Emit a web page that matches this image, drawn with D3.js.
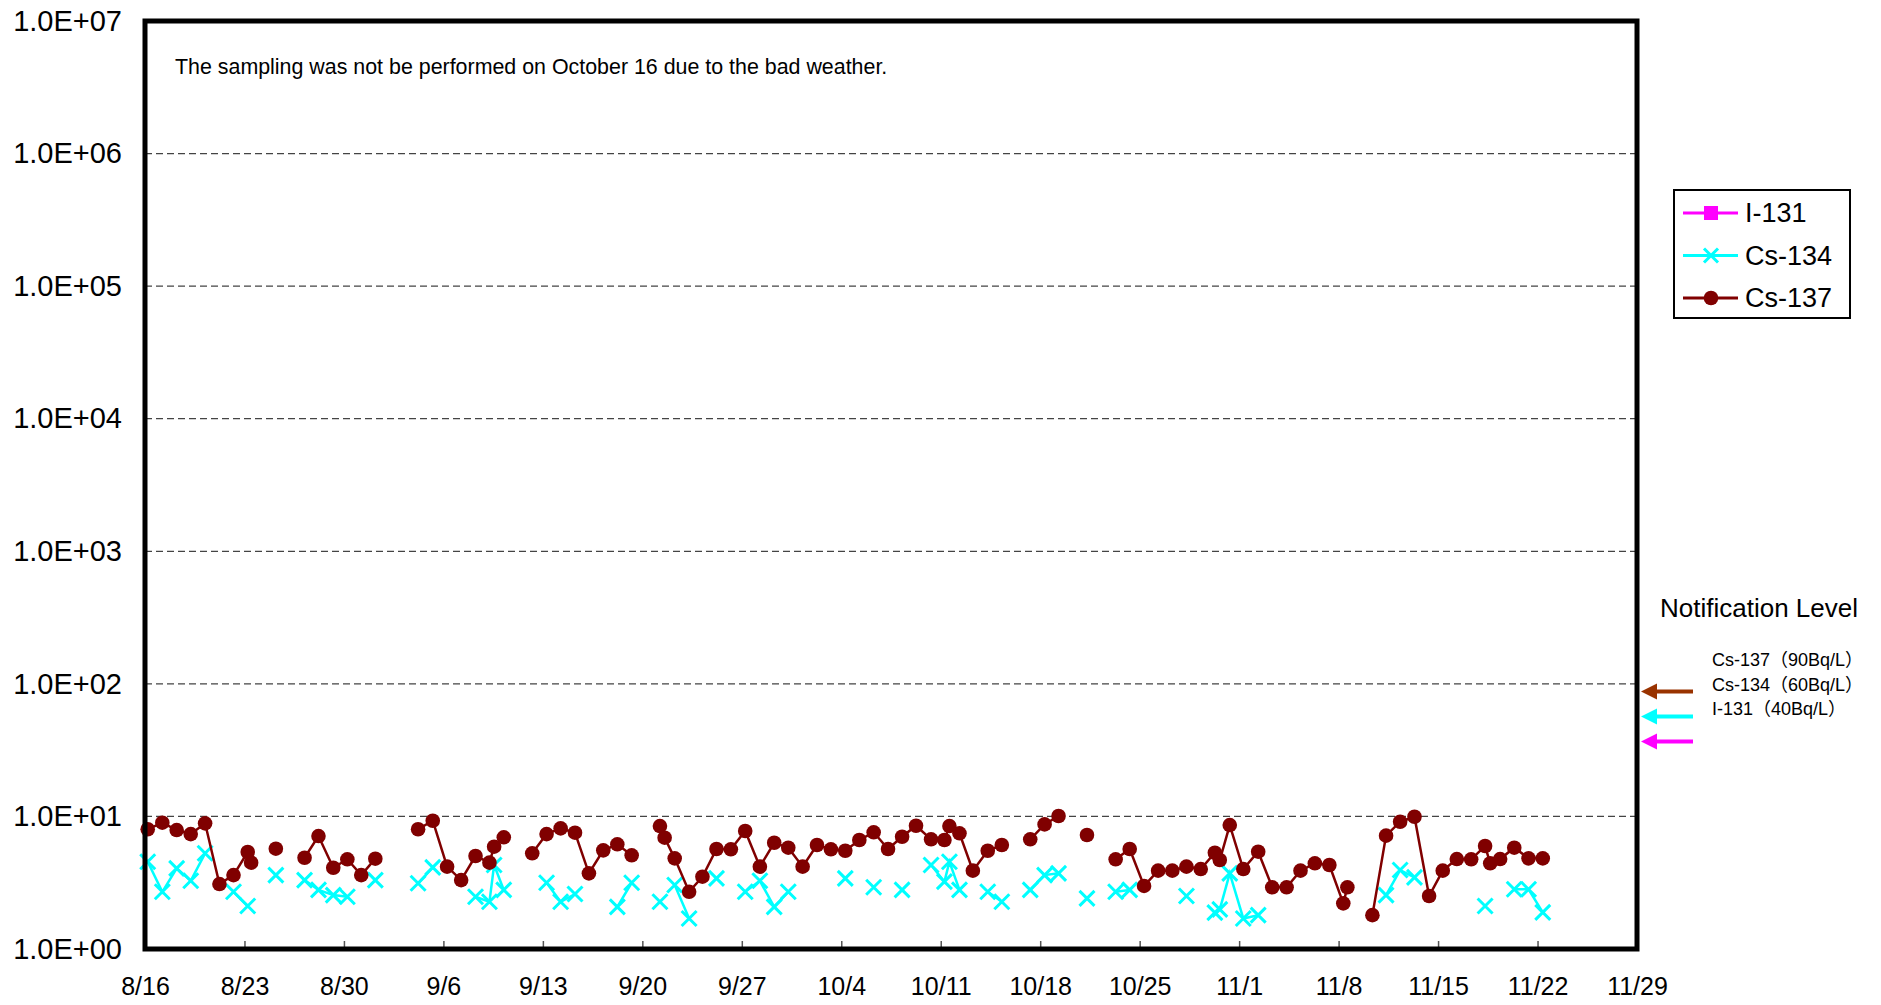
<!DOCTYPE html>
<meta charset="utf-8">
<script src="https://d3js.org/d3.v7.min.js"></script>
<body style="margin:0">
<svg width="1881" height="1005" style="display:block;background:#fff"></svg>
<script>
    // sampling times (year 2012), one row per sample; rows with both values null are days without sampling
    var sampleTimes = [
        "8/16 4:35","8/17 5:15","8/18 5:30","8/19 5:15","8/20 5:30","8/21 5:45","8/22 5:30","8/23 5:30","8/23 11:15","8/24 6:00",
        "8/25 5:00","8/26 6:00","8/27 5:30","8/28 5:00","8/29 6:00","8/30 5:45","8/31 5:15","9/1 5:00","9/2 6:00","9/3 6:00",
        "9/4 5:15","9/5 6:00","9/6 6:15","9/7 6:00","9/8 6:15","9/9 5:45","9/9 13:40","9/10 6:00","9/11 6:00","9/12 6:00",
        "9/13 6:15","9/14 6:00","9/15 6:15","9/16 5:45","9/17 6:00","9/18 5:45","9/19 6:00","9/20 6:00","9/21 5:45","9/21 13:40",
        "9/22 6:40","9/23 7:00","9/24 5:30","9/25 5:15","9/26 5:30","9/27 5:45","9/28 6:30","9/29 6:45","9/30 6:30","10/1 6:45",
        "10/2 7:00","10/3 6:30","10/4 6:45","10/5 6:30","10/6 6:45","10/7 7:00","10/8 6:45","10/9 6:15","10/10 7:40","10/11 6:15",
        "10/11 14:40","10/12 7:40","10/13 6:15","10/14 7:25","10/15 7:10","10/16 7:00","10/17 7:10","10/18 7:25","10/19 7:00","10/20 7:00",
        "10/21 7:00","10/22 7:00","10/23 7:25","10/24 7:10","10/25 7:25","10/26 7:10","10/27 7:10","10/28 7:00","10/29 7:10","10/30 7:00",
        "10/30 15:20","10/31 8:10","11/1 7:00","11/2 8:10","11/3 7:55","11/4 8:10","11/5 7:40","11/6 7:55","11/7 8:25","11/8 7:55",
        "11/8 14:50","11/9 8:00","11/10 9:05","11/11 8:10","11/12 7:55","11/13 8:10","11/14 8:50","11/15 7:55","11/16 7:40","11/17 7:55",
        "11/18 7:25","11/18 16:05","11/19 8:50","11/20 8:40","11/21 8:50","11/22 8:50"
    ];

    // Bq/L, null = not detected / no sample
    var cs134 = [
        4.55,2.70,4.06,3.27,5.27,null,2.70,2.11,null,null,
        3.61,null,3.31,2.79,2.55,2.48,null,3.31,null,null,
        3.13,4.13,null,null,2.48,2.27,4.30,2.79,null,null,
        3.16,2.27,2.60,null,null,2.08,3.16,null,2.27,null,
        3.04,1.70,null,3.41,null,2.70,3.27,2.08,2.70,null,
        null,null,3.41,null,2.92,null,2.79,null,4.30,3.22,
        4.55,2.79,null,2.70,2.27,null,2.79,3.61,3.72,null,
        2.41,null,2.70,2.79,null,null,null,2.51,null,1.88,
        1.99,3.72,1.70,1.80,null,null,null,null,null,null,
        null,null,null,2.55,3.94,3.47,null,null,null,null,
        2.11,null,null,2.82,2.82,1.89
    ];

    var cs137 = [
        8.00,8.97,7.89,7.36,8.87,3.09,3.61,5.39,4.48,null,
        5.71,null,4.88,7.11,4.10,4.75,3.61,4.80,null,null,
        8.00,9.28,4.18,3.31,5.03,4.48,5.91,6.96,null,5.27,
        7.36,8.13,7.54,3.72,5.55,6.16,5.09,null,8.46,6.91,
        4.83,2.70,3.51,5.68,5.65,7.76,4.18,6.33,5.81,4.18,
        6.09,5.65,5.51,6.64,7.59,5.68,7.03,8.51,6.72,6.64,
        8.46,7.46,3.90,5.51,6.09,null,6.72,8.71,10.07,null,
        7.24,null,4.75,5.68,2.99,3.90,3.90,4.18,4.01,5.32,
        4.69,8.61,4.01,5.42,2.92,2.92,3.90,4.43,4.30,2.21,
        2.92,null,1.80,7.16,9.12,9.95,2.51,3.90,4.77,4.75,
        5.98,4.43,4.77,5.81,4.83,4.83
    ];

    var i131 = []; // not detected in any sample

    var xTickLabels = ["8/16","8/23","8/30","9/6","9/13","9/20","9/27","10/4","10/11","10/18","10/25","11/1","11/8","11/15","11/22","11/29"];
    var yTickValues = [1, 10, 100, 1000, 10000, 100000, 1000000, 10000000];
    var seriesNames = ["I-131", "Cs-134", "Cs-137"];
    var levelLabels = ["Cs-137（90Bq/L）", "Cs-134（60Bq/L）", "I-131（40Bq/L）"];
    var levelValues = [90, 60, 40];
    var noteText = "The sampling was not be performed on October 16 due to the bad weather.";

    var font = "'Liberation Sans', Arial, 'Noto Sans CJK JP', sans-serif";
    var colors = {"I-131": "#ff00ff", "Cs-134": "#00ffff", "Cs-137": "#800000"};
    var arrowColors = ["#993300", "#00ffff", "#ff00ff"];

    var svg = d3.select('svg');
    var plotLeft = 145, plotRight = 1637, plotTop = 21, plotBottom = 949;

    var parseTime = d3.timeParse("%Y/%m/%d %H:%M");
    var parseDay = d3.timeParse("%Y/%m/%d");

    var x = d3.scaleTime()
        .domain([parseDay("2012/8/16"), parseDay("2012/11/29")])
        .range([plotLeft, plotRight]);

    var y = d3.scaleLog()
        .domain([1, 1e7])
        .range([plotBottom, plotTop]);

    var rows = sampleTimes.map(function(t, i){
        return {date: parseTime("2012/" + t), cs134: cs134[i], cs137: cs137[i]};
    });

    /* ----------- GRID ----------- */

    svg.append('g')
        .selectAll('line')
        .data(yTickValues.slice(1, -1))
        .enter()
        .append('line')
        .attr('x1', plotLeft).attr('x2', plotRight)
        .attr('y1', function(d){ return y(d); })
        .attr('y2', function(d){ return y(d); })
        .attr('stroke', '#444')
        .attr('stroke-width', 1.2)
        .attr('stroke-dasharray', '7,4');

    /* ----------- AXES ----------- */

    var xAxis = d3.axisBottom(x)
        .tickValues(xTickLabels.map(function(s){ return parseDay("2012/" + s); }))
        .tickFormat(function(d, i){ return xTickLabels[i]; })
        .tickSizeInner(-8)
        .tickSizeOuter(0)
        .tickPadding(28);

    var gx = svg.append('g')
        .attr('transform', 'translate(0,' + plotBottom + ')')
        .call(xAxis);
    gx.select('.domain').remove();
    gx.selectAll('line').attr('stroke', '#555').attr('stroke-width', 1.5);
    gx.selectAll('text')
        .attr('font-family', font)
        .attr('font-size', 25)
        .attr('fill', '#000');

    var yAxis = d3.axisLeft(y)
        .tickValues(yTickValues)
        .tickFormat(function(d){ return "1.0E+" + String(Math.round(Math.log10(d))).padStart(2, "0"); })
        .tickSize(0)
        .tickPadding(23);

    var gy = svg.append('g')
        .attr('transform', 'translate(' + plotLeft + ',0)')
        .call(yAxis);
    gy.select('.domain').remove();
    gy.selectAll('text')
        .attr('font-family', font)
        .attr('font-size', 29)
        .attr('fill', '#000');

    /* ----------- SERIES ----------- */

    function drawSeries(key, name){
        var line = d3.line()
            .defined(function(d){ return d[key] != null; })
            .x(function(d){ return x(d.date); })
            .y(function(d){ return y(d[key]); });

        svg.append('path')
            .datum(rows)
            .attr('fill', 'none')
            .attr('stroke', colors[name])
            .attr('stroke-width', 2.5)
            .attr('d', line);

        var pts = rows.filter(function(d){ return d[key] != null; });
        var g = svg.append('g');
        if (name == "Cs-134") {
            g.selectAll('path')
                .data(pts)
                .enter()
                .append('path')
                .attr('d', 'M-7.5,-7.5L7.5,7.5M-7.5,7.5L7.5,-7.5')
                .attr('transform', function(d){ return 'translate(' + x(d.date) + ',' + y(d[key]) + ')'; })
                .attr('stroke', colors[name])
                .attr('stroke-width', 3)
                .attr('fill', 'none');
        } else {
            g.selectAll('circle')
                .data(pts)
                .enter()
                .append('circle')
                .attr('cx', function(d){ return x(d.date); })
                .attr('cy', function(d){ return y(d[key]); })
                .attr('r', 7.3)
                .attr('fill', colors[name]);
        }
    }

    drawSeries('cs134', 'Cs-134');
    drawSeries('cs137', 'Cs-137');

    /* ----------- FRAME ----------- */

    svg.append('rect')
        .attr('x', plotLeft).attr('y', plotTop)
        .attr('width', plotRight - plotLeft).attr('height', plotBottom - plotTop)
        .attr('fill', 'none')
        .attr('stroke', '#000')
        .attr('stroke-width', 5);

    svg.append('text')
        .attr('x', 175).attr('y', 74)
        .attr('font-family', font)
        .attr('font-size', 21.4)
        .text(noteText);

    /* ----------- LEGEND ----------- */

    var legend = svg.append('g').attr('transform', 'translate(1674,190)');
    legend.append('rect')
        .attr('width', 176).attr('height', 128)
        .attr('fill', '#fff').attr('stroke', '#000').attr('stroke-width', 2);

    var item = legend.selectAll('g.item')
        .data(seriesNames)
        .enter()
        .append('g')
        .attr('class', 'item')
        .attr('transform', function(d, i){ return 'translate(0,' + (23 + i * 42.5) + ')'; });

    item.append('line')
        .attr('x1', 9).attr('x2', 64)
        .attr('stroke', function(d){ return colors[d]; })
        .attr('stroke-width', 3);

    item.each(function(d){
        var el = d3.select(this);
        if (d == "I-131") {
            el.append('rect').attr('x', 30).attr('y', -7).attr('width', 14).attr('height', 14).attr('fill', colors[d]);
        } else if (d == "Cs-134") {
            el.append('path').attr('d', 'M30,-7L44,7M30,7L44,-7').attr('stroke', colors[d]).attr('stroke-width', 3);
        } else {
            el.append('circle').attr('cx', 37).attr('r', 7.3).attr('fill', colors[d]);
        }
    });

    item.append('text')
        .attr('x', 71).attr('dy', '0.35em')
        .attr('font-family', font)
        .attr('font-size', 27)
        .text(function(d){ return d; });

    /* ----------- NOTIFICATION LEVEL ----------- */

    svg.append('text')
        .attr('x', 1660).attr('y', 617)
        .attr('font-family', font)
        .attr('font-size', 26)
        .text("Notification Level");

    svg.selectAll('text.level')
        .data(levelLabels)
        .enter()
        .append('text')
        .attr('class', 'level')
        .attr('x', 1712)
        .attr('y', function(d, i){ return 666 + i * 24.5; })
        .attr('font-family', font)
        .attr('font-size', 18)
        .text(function(d){ return d; });

    var arrows = svg.selectAll('g.arrow')
        .data(levelValues)
        .enter()
        .append('g')
        .attr('class', 'arrow')
        .attr('transform', function(d, i){ return 'translate(1641,' + (y(levelValues[0]) + 1.5 + i * 25) + ')'; });

    arrows.append('line')
        .attr('x1', 12).attr('x2', 52)
        .attr('stroke', function(d, i){ return arrowColors[i]; })
        .attr('stroke-width', 4);

    arrows.append('path')
        .attr('d', 'M0,0L16,-8L16,8Z')
        .attr('fill', function(d, i){ return arrowColors[i]; });
</script>
</body>
